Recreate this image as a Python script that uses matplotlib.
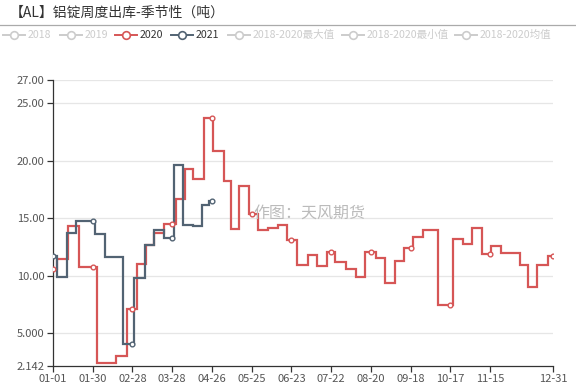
import numpy as np
import pandas as pd
import matplotlib
matplotlib.use('Agg')
import matplotlib.pyplot as plt
from matplotlib.lines import Line2D

plt.rcParams['font.family'] = ['Noto Sans CJK SC', 'DejaVu Sans']

# ---------------- data ----------------
tick_labels = ['01-01', '01-30', '02-28', '03-28', '04-26', '05-25', '06-23',
               '07-22', '08-20', '09-18', '10-17', '11-15', '12-31']
y_ticks = [2.142, 5, 10, 15, 20, 25, 27]
y_tick_labels = ['2.142', '5.000', '10.00', '15.00', '20.00', '25.00', '27.00']

# 2020 weekly values (step start date, value)
s2020_dates = ['01-01', '01-04', '01-12', '01-20', '02-02', '02-16', '02-24',
               '03-02', '03-09', '03-15', '03-22', '03-31', '04-06', '04-12',
               '04-20', '04-27', '05-05', '05-10', '05-16', '05-23', '05-30',
               '06-06', '06-13', '06-20', '06-27', '07-05', '07-12', '07-19',
               '07-25', '08-02', '08-09', '08-16', '08-24', '08-30', '09-07',
               '09-13', '09-20', '09-27', '10-08', '10-19', '10-26', '11-02',
               '11-09', '11-16', '11-23', '12-07', '12-13', '12-19', '12-27',
               '12-31']
s2020_vals = [10.6, 11.42, 14.3, 10.78, 2.4, 3.0, 7.07,
              11.04, 12.63, 13.7, 14.46, 16.7, 19.24, 18.4,
              23.7, 20.83, 18.2, 14.09, 17.82, 15.36, 14.0,
              14.17, 14.43, 13.07, 10.96, 11.77, 10.84, 12.03,
              11.16, 10.6, 9.88, 12.03, 11.53, 9.36, 11.3,
              12.4, 13.36, 14.0, 7.48, 13.2, 12.78, 14.17,
              11.91, 12.57, 11.97, 10.9, 9.0, 10.9, 11.7,
              11.7]

s2021_dates = ['01-01', '01-04', '01-11', '01-18', '02-01', '02-08', '02-21',
               '02-29', '03-08', '03-15', '03-22', '03-29', '04-05', '04-12',
               '04-19', '04-24', '04-26']
s2021_vals = [11.7, 9.88, 13.7, 14.75, 13.65, 11.62, 4.09,
              9.83, 12.63, 14.0, 13.27, 19.65, 14.43, 14.29,
              16.17, 16.46, 16.46]

legend_names = ['2018', '2019', '2020', '2021', '2018-2020最大值',
                '2018-2020最小值', '2018-2020均值']

RED = '#d65656'
GRAY = '#526373'
INACTIVE = '#cccccc'


def doy(md):
    return pd.Timestamp('2020-' + md).dayofyear - 1


def step_value(days, vals, d):
    idx = np.searchsorted(days, d, side='right') - 1
    return vals[idx]


W, H = 576, 392
fig = plt.figure(figsize=(W / 100, H / 100), dpi=100)
ax = fig.add_axes([53 / W, 1 - 366 / H, 500 / W, 286 / H])

tick_days = np.array([doy(t) for t in tick_labels])

series = [(s2020_dates, s2020_vals, RED), (s2021_dates, s2021_vals, GRAY)]
for dates, vals, col in series:
    d = np.array([doy(x) for x in dates])
    v = np.array(vals)
    ax.plot(d, v, drawstyle='steps-post', color=col, lw=1.6, zorder=3,
            solid_joinstyle='miter')
    md = tick_days[tick_days <= d[-1]]
    mv = [step_value(d, v, x) for x in md]
    ax.plot(md, mv, linestyle='none', marker='o', ms=3.4, mfc='white',
            mec=col, mew=1.0, zorder=4)

ax.set_xlim(0, 365)
ax.set_ylim(2.142, 27)
ax.set_xticks(tick_days)
ax.set_xticklabels(tick_labels)
ax.set_yticks(y_ticks)
ax.set_yticklabels(y_tick_labels)
for y in y_ticks[1:]:
    ax.axhline(y, color='#e6e6e6', lw=0.9, zorder=1)
for s in ['top', 'right']:
    ax.spines[s].set_visible(False)
for s in ['left', 'bottom']:
    ax.spines[s].set_color('#333333')
    ax.spines[s].set_linewidth(0.9)
ax.tick_params(axis='both', direction='out', length=4, width=0.9,
               color='#333333', labelcolor='#555555', labelsize=8, pad=2)

# watermark
fig.text(309 / W, 1 - 213 / H, '作图：天风期货', fontsize=11.5, color='#bbbbbb',
         ha='center', va='center')

# title and separator
fig.text(10 / W, 1 - 13 / H, '【AL】铝锭周度出库-季节性（吨）', fontsize=10,
         color='#333333', ha='left', va='center', fontweight='medium')
fig.add_artist(Line2D([0, 1], [1 - 25 / H, 1 - 25 / H], transform=fig.transFigure,
                      color='#aaaaaa', lw=0.9))

# legend
leg_icon_x = [3, 60, 115, 171, 228, 342, 455]
leg_cols = [INACTIVE, INACTIVE, RED, GRAY, INACTIVE, INACTIVE, INACTIVE]
ly = 1 - 35 / H
for x0, name, col in zip(leg_icon_x, legend_names, leg_cols):
    fig.add_artist(Line2D([x0 / W, (x0 + 22) / W], [ly, ly], transform=fig.transFigure,
                          color=col, lw=1.4))
    fig.add_artist(Line2D([(x0 + 11) / W], [ly], transform=fig.transFigure,
                          marker='o', ms=5.5, mfc='white', mec=col, mew=1.2))
    tcol = '#333333' if col != INACTIVE else INACTIVE
    fig.text((x0 + 25) / W, ly, name, fontsize=7.6, color=tcol, ha='left', va='center')

fig.savefig('out.png', dpi=100)
